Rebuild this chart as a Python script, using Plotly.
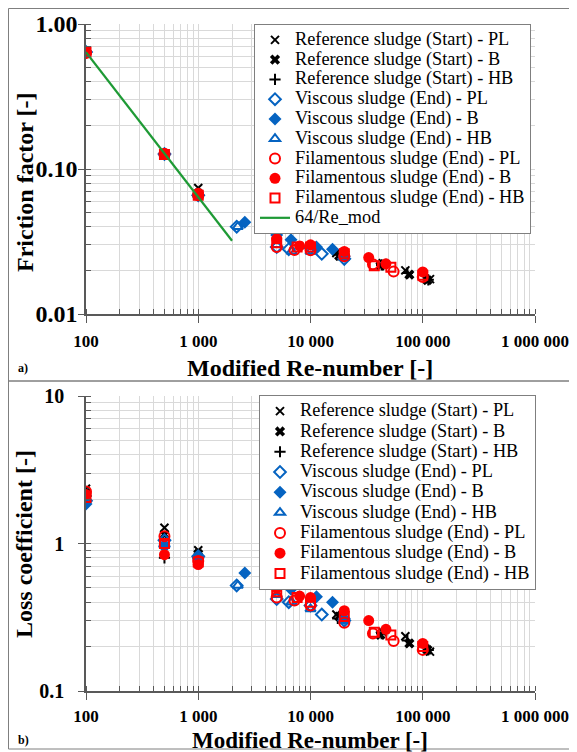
import plotly.graph_objects as go

# ---------------- data ----------------
names = [
    "Reference sludge (Start) - PL", "Reference sludge (Start) - B", "Reference sludge (Start) - HB",
    "Viscous sludge (End) - PL", "Viscous sludge (End) - B", "Viscous sludge (End) - HB",
    "Filamentous sludge (End) - PL", "Filamentous sludge (End) - B", "Filamentous sludge (End) - HB",
]
line_name = "64/Re_mod"

# Panel a) friction factor
ref_pl_re = [100, 500, 1000, 17000, 44000, 70000, 116000]
ref_pl_f = [0.64, 0.127, 0.074, 0.0263, 0.0224, 0.0200, 0.0174]
ref_b_re = [100, 500, 1000, 18000, 42000, 76000, 110000]
ref_b_f = [0.64, 0.127, 0.068, 0.0252, 0.0215, 0.0187, 0.0171]
ref_hb_re = [100, 500, 1000, 17500, 43000, 73000, 112000]
ref_hb_f = [0.64, 0.127, 0.068, 0.0256, 0.0218, 0.0192, 0.0172]

vis_pl_re = [100, 500, 1000, 2200, 5000, 6400, 10000, 12600, 20000]
vis_pl_f = [0.64, 0.127, 0.066, 0.040, 0.029, 0.028, 0.0285, 0.026, 0.024]
vis_b_re = [100, 500, 1000, 2600, 5000, 6700, 11300, 15700, 20000]
vis_b_f = [0.64, 0.127, 0.066, 0.043, 0.035, 0.0325, 0.029, 0.028, 0.025]
vis_hb_re = [100, 500, 1000, 2250, 5000, 6800, 10000, 20000]
vis_hb_f = [0.64, 0.127, 0.066, 0.040, 0.030, 0.027, 0.027, 0.0245]

fil_pl_re = [100, 500, 1000, 5000, 7200, 10000, 20000, 36000, 55000, 100000]
fil_pl_f = [0.63, 0.127, 0.066, 0.029, 0.0276, 0.0275, 0.025, 0.022, 0.0196, 0.018]
fil_b_re = [100, 500, 1000, 5000, 8000, 10000, 20000, 33000, 47000, 100000]
fil_b_f = [0.64, 0.128, 0.068, 0.033, 0.0295, 0.030, 0.027, 0.0245, 0.0222, 0.0195]
fil_hb_re = [100, 500, 1000, 5000, 7600, 10000, 20000, 37000, 52000, 100000]
fil_hb_f = [0.64, 0.126, 0.066, 0.031, 0.029, 0.029, 0.026, 0.0215, 0.021, 0.0185]

lam_re = [100, 2000]
lam_f = [0.64, 0.032]

# Panel b) loss coefficient
ref_pl_k = [2.35, 1.28, 0.90, 0.33, 0.25, 0.235, 0.185]
ref_b_k = [2.20, 1.15, 0.85, 0.32, 0.24, 0.21, 0.19]
ref_hb_k = [2.10, 0.80, 0.80, 0.31, 0.245, 0.22, 0.19]

vis_pl_k = [1.95, 1.05, 0.82, 0.52, 0.42, 0.40, 0.38, 0.33, 0.30]
vis_b_k = [1.85, 0.95, 0.80, 0.63, 0.53, 0.49, 0.435, 0.40, 0.31]
vis_hb_k = [2.00, 1.00, 0.81, 0.52, 0.45, 0.40, 0.36, 0.30]

fil_pl_k = [2.25, 1.12, 0.76, 0.43, 0.41, 0.38, 0.29, 0.245, 0.218, 0.19]
fil_b_k = [2.15, 0.84, 0.72, 0.50, 0.44, 0.43, 0.35, 0.30, 0.262, 0.21]
fil_hb_k = [2.05, 1.00, 0.75, 0.47, 0.43, 0.40, 0.32, 0.25, 0.24, 0.20]

x_tick_vals = [100, 1000, 10000, 100000, 1000000]

# ---------------- styles ----------------
BLACK = "#000000"
BLUE = "#0563C1"
RED = "#FF0000"
GREEN = "#1E9A35"
SERIF = "Liberation Serif, Times New Roman, DejaVu Serif, serif"

styles = [
    dict(symbol="x-thin", size=8, color=BLACK, line=dict(width=2, color=BLACK)),
    dict(symbol="x", size=9, color=BLACK, line=dict(width=0)),
    dict(symbol="cross-thin", size=8, color=BLACK, line=dict(width=2, color=BLACK)),
    dict(symbol="diamond-open", size=9, color=BLUE, line=dict(width=2, color=BLUE)),
    dict(symbol="diamond", size=10, color=BLUE, line=dict(width=0)),
    dict(symbol="triangle-up-open", size=9, color=BLUE, line=dict(width=2, color=BLUE)),
    dict(symbol="circle-open", size=10, color=RED, line=dict(width=2, color=RED)),
    dict(symbol="circle", size=11, color=RED, line=dict(width=0)),
    dict(symbol="square-open", size=9, color=RED, line=dict(width=2, color=RED)),
]

series_a = [
    (ref_pl_re, ref_pl_f), (ref_b_re, ref_b_f), (ref_hb_re, ref_hb_f),
    (vis_pl_re, vis_pl_f), (vis_b_re, vis_b_f), (vis_hb_re, vis_hb_f),
    (fil_pl_re, fil_pl_f), (fil_b_re, fil_b_f), (fil_hb_re, fil_hb_f),
]
series_b = [
    (ref_pl_re, ref_pl_k), (ref_b_re, ref_b_k), (ref_hb_re, ref_hb_k),
    (vis_pl_re, vis_pl_k), (vis_b_re, vis_b_k), (vis_hb_re, vis_hb_k),
    (fil_pl_re, fil_pl_k), (fil_b_re, fil_b_k), (fil_hb_re, fil_hb_k),
]

# page body adds an 8 px offset; layout positions below are given in screen pixels
OFF = 8
W, H = 569, 744


def px_x(p):
    return (p - OFF) / W


def px_y(p):
    return 1 - (p - OFF) / H


def lname(n):
    return '<span style="font-size:18.3px">' + n + '</span>'


fig = go.Figure()

for (xs, ys), nm, st in zip(series_a, names, styles):
    fig.add_trace(go.Scatter(x=xs, y=ys, mode="markers", name=lname(nm), marker=st,
                             xaxis="x", yaxis="y", legend="legend"))
fig.add_trace(go.Scatter(x=lam_re, y=lam_f, mode="lines", name=lname(line_name),
                         line=dict(color=GREEN, width=2.2), xaxis="x", yaxis="y", legend="legend"))

for (xs, ys), nm, st in zip(series_b, names, styles):
    fig.add_trace(go.Scatter(x=xs, y=ys, mode="markers", name=lname(nm), marker=st,
                             xaxis="x2", yaxis="y2", legend="legend2"))

GRID = "#D9D9D9"
AXC = "#595959"


def minor_cfg():
    return dict(dtick="D1", ticks="inside", ticklen=5, tickcolor=AXC, tickwidth=1,
                showgrid=True, gridcolor=GRID, gridwidth=1)


def xaxis_cfg(anchor, size, standoff):
    return dict(
        type="log", range=[2, 6.0], domain=[px_x(86), px_x(535)], anchor=anchor,
        tickvals=x_tick_vals, tickformat=",d",
        tickfont=dict(family=SERIF, size=size, color=BLACK, weight="bold"),
        showline=True, linecolor=AXC, linewidth=1.5,
        ticks="outside", ticklen=7, tickcolor=AXC, tickwidth=1.2,
        showgrid=True, gridcolor=GRID, gridwidth=1,
        minor=minor_cfg(), automargin=False,
        ticklabelstandoff=standoff, zeroline=False,
    )


fig.update_layout(
    template="none",
    width=W, height=H, margin=dict(l=0, r=0, t=0, b=0, autoexpand=False),
    paper_bgcolor="white", plot_bgcolor="white",
    separators=". ",
    showlegend=True,
    xaxis=xaxis_cfg("y", 17, 4),
    xaxis2=xaxis_cfg("y2", 17, 2),
    yaxis=dict(
        type="log", range=[-2, 0], domain=[px_y(314), px_y(24)], anchor="x",
        tickvals=[0.01, 0.1, 1.0], tickformat=".2f",
        tickfont=dict(family=SERIF, size=24, color=BLACK, weight="bold"),
        showline=True, linecolor=AXC, linewidth=1.5,
        ticks="outside", ticklen=6, tickcolor=AXC, tickwidth=1.2,
        showgrid=True, gridcolor=GRID, gridwidth=1,
        minor=minor_cfg(), automargin=False, ticklabelstandoff=-4, zeroline=False,
    ),
    yaxis2=dict(
        type="log", range=[-1, 1], domain=[px_y(691), px_y(396)], anchor="x2",
        tickvals=[0.1, 1, 10], ticktext=["0.1", "1", "10"],
        tickfont=dict(family=SERIF, size=20, color=BLACK, weight="bold"),
        showline=True, linecolor=AXC, linewidth=1.5,
        ticks="outside", ticklen=6, tickcolor=AXC, tickwidth=1.2,
        showgrid=True, gridcolor=GRID, gridwidth=1,
        minor=minor_cfg(), automargin=False,
        ticklabelstandoff=10, zeroline=False,
    ),
    legend=dict(
        x=px_x(531), xanchor="right", y=px_y(24), yanchor="top",
        bgcolor="white", bordercolor="#7F7F7F", borderwidth=1,
        font=dict(family=SERIF, size=12.9, color=BLACK), tracegroupgap=0,
    ),
    legend2=dict(
        x=px_x(536), xanchor="right", y=px_y(395), yanchor="top",
        bgcolor="white", bordercolor="#7F7F7F", borderwidth=1,
        font=dict(family=SERIF, size=13.3, color=BLACK), tracegroupgap=0,
    ),
)

# panel frames
for y0, y1 in [(381, 8.5), (749, 381)]:
    fig.add_shape(type="rect", xref="paper", yref="paper",
                  x0=px_x(8.5), x1=px_x(580), y0=px_y(y0), y1=px_y(y1),
                  line=dict(color="#7F7F7F", width=1), fillcolor="rgba(0,0,0,0)", layer="below")

annotations = [
    dict(text="Modified Re-number [-]", x=px_x(310), y=px_y(368), size=24),
    dict(text="Modified Re-number [-]", x=px_x(310), y=px_y(740), size=23),
    dict(text="Friction factor [-]", x=px_x(25), y=px_y(183), textangle=-90, size=24),
    dict(text="Loss coefficient [-]", x=px_x(24), y=px_y(544), textangle=-90, size=24),
]
for a in annotations:
    sz = a.pop("size")
    fig.add_annotation(xref="paper", yref="paper", showarrow=False,
                       font=dict(family=SERIF, size=sz, color=BLACK, weight="bold"),
                       xanchor="center", yanchor="middle", **a)

for txt, yy in [("a)", 368), ("b)", 740)]:
    fig.add_annotation(text=txt, xref="paper", yref="paper", x=px_x(16), y=px_y(yy),
                       xanchor="left", yanchor="middle", showarrow=False,
                       font=dict(family=SERIF, size=12, color=BLACK, weight="bold"))

fig.write_html("out.html")
